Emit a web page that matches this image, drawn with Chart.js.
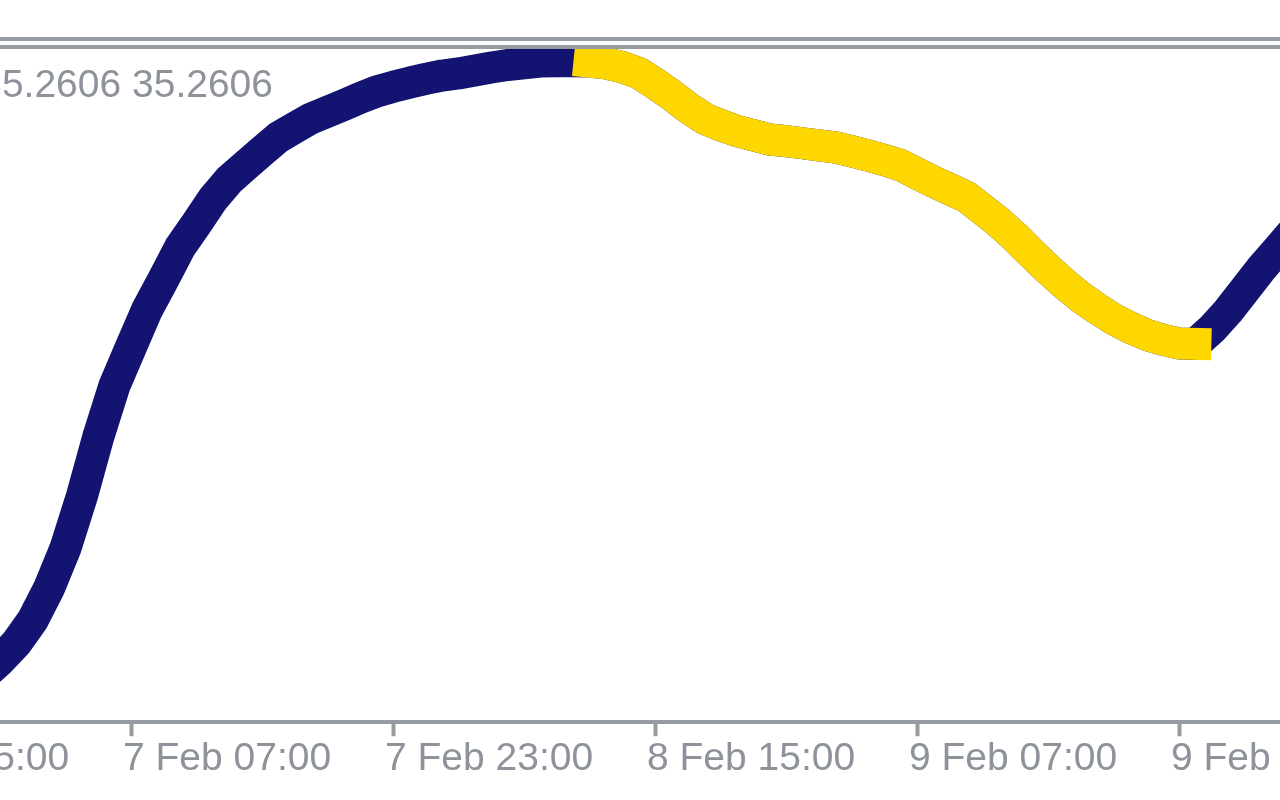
<!DOCTYPE html>
<html>
<head>
<meta charset="utf-8">
<script src="https://cdn.jsdelivr.net/npm/chart.js@4.4.1/dist/chart.umd.min.js"></script>
<style>
  html, body { margin: 0; padding: 0; background: #fff; overflow: hidden; }
  #wrap { position: absolute; left: -262px; top: 0; width: 1965px; height: 800px; }
</style>
</head>
<body>
<div id="wrap"><canvas id="grafico"></canvas></div>
<script>
// horas contadas desde 6 Feb 00:00
var horas = [];
for (let h = 21; h <= 102; h++) horas.push(h);

var valores = [20.81, 21.12, 21.47, 21.88, 22.43, 23.19, 24.14, 25.37, 26.78, 28.01,
  28.92, 29.82, 30.54, 31.29, 31.85, 32.43, 32.89, 33.23, 33.57, 33.90,
  34.13, 34.35, 34.51, 34.67, 34.84, 34.99, 35.10, 35.20, 35.29, 35.37,
  35.42, 35.49, 35.56, 35.62, 35.66, 35.70, 35.71, 35.71, 35.70, 35.66,
  35.57, 35.43, 35.18, 34.91, 34.61, 34.35, 34.19, 34.05, 33.95, 33.85,
  33.81, 33.76, 33.71, 33.66, 33.57, 33.47, 33.36, 33.24, 33.04, 32.85,
  32.67, 32.49, 32.19, 31.88, 31.53, 31.14, 30.77, 30.42, 30.10, 29.83,
  29.58, 29.38, 29.21, 29.09, 29.00, 28.99, 29.34, 29.77, 30.27, 30.77,
  31.22, 31.67];

// tramo bajista (amarillo)
var bajaDesde = 59;
var bajaHasta = 96;

var tickHoras = [15, 31, 47, 63, 79, 95, 111];
var tickTextos = ["6 Feb 15:00", "7 Feb 07:00", "7 Feb 23:00", "8 Feb 15:00", "9 Feb 07:00", "9 Feb 23:00", "10 Feb 15:00"];
var etiquetaValor = "35.2606 35.2606";

var gris = "#969ba1";
var grisTexto = "#8d929b";
var fuente = "'Liberation Sans', Arial, sans-serif";

var puntosAzul = horas.map((h, i) => ({x: h, y: valores[i]}));
var puntosAmarillo = horas.map((h, i) => ({x: h, y: (h >= bajaDesde && h <= bajaHasta) ? valores[i] : null}));

var marco = {
    id: "marco",
    afterDraw(chart) {
        const ctx = chart.ctx;
        ctx.save();
        ctx.fillStyle = gris;
        ctx.fillRect(0, 37, chart.width, 4);
        ctx.fillRect(0, 45, chart.width, 4);
        ctx.fillStyle = grisTexto;
        ctx.font = "39px " + fuente;
        ctx.textAlign = "right";
        ctx.textBaseline = "alphabetic";
        ctx.fillText(etiquetaValor, 262 + 273, 97);
        ctx.restore();
    }
};

var ctx = document.getElementById("grafico").getContext("2d");
var chart = new Chart(ctx, {
    type: "line",
    plugins: [marco],
    data: {
        datasets: [
            {
                label: "baja",
                data: puntosAmarillo,
                borderColor: "#ffd700",
                borderWidth: 32,
                borderCapStyle: "square",
                borderJoinStyle: "round",
                pointRadius: 0,
                tension: 0,
                spanGaps: false,
                clip: 0
            },
            {
                label: "sube",
                data: puntosAzul,
                borderColor: "#131372",
                borderWidth: 32,
                borderCapStyle: "square",
                borderJoinStyle: "round",
                pointRadius: 0,
                tension: 0,
                clip: 0
            }
        ]
    },
    options: {
        responsive: true,
        maintainAspectRatio: false,
        animation: false,
        devicePixelRatio: 1,
        layout: { padding: { top: 49, left: 0, right: 0, bottom: 17 } },
        plugins: { legend: { display: false }, tooltip: { enabled: false } },
        scales: {
            x: {
                type: "linear",
                min: 7,
                max: 127,
                afterBuildTicks: (scale) => { scale.ticks = tickHoras.map(v => ({value: v})); },
                grid: {
                    display: true,
                    drawOnChartArea: false,
                    drawTicks: true,
                    tickLength: 14,
                    tickWidth: 4,
                    tickColor: gris,
                    color: gris
                },
                border: { display: true, color: gris, width: 4 },
                ticks: {
                    autoSkip: false,
                    maxRotation: 0,
                    align: "start",
                    labelOffset: -8,
                    padding: 0,
                    color: grisTexto,
                    font: { family: fuente, size: 39 },
                    callback: (v, i) => tickTextos[i]
                }
            },
            y: {
                display: false,
                min: 20,
                max: 36
            }
        }
    }
});
</script>
</body>
</html>
